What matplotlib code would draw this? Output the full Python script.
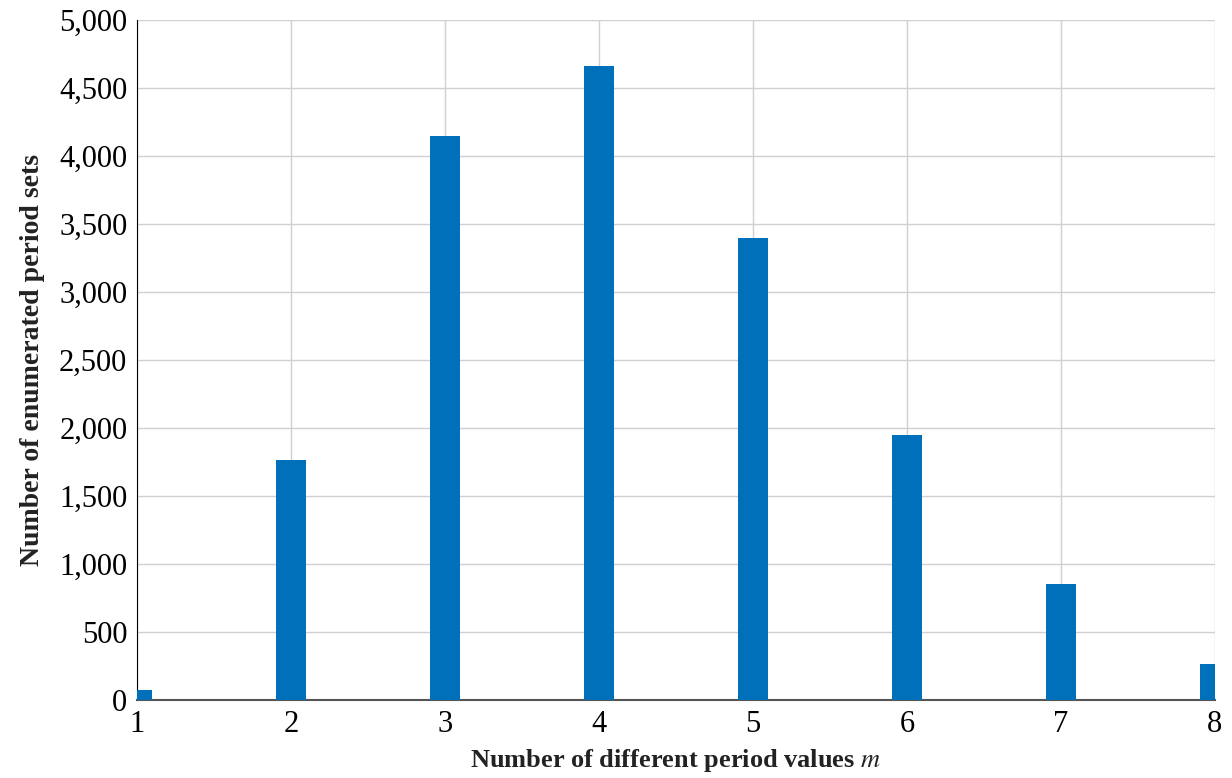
import matplotlib.pyplot as plt
from matplotlib.ticker import FuncFormatter

m_values = [1, 2, 3, 4, 5, 6, 7, 8]
period_sets = [73, 1765, 4145, 4665, 3395, 1948, 852, 262]

plt.rcParams['font.family'] = ['Liberation Serif', 'DejaVu Serif']
plt.rcParams['mathtext.fontset'] = 'stix'

fig = plt.figure(figsize=(12.32, 7.78), dpi=100)
ax = fig.add_axes([137 / 1232, 78 / 778, (1215 - 137) / 1232, 680 / 778])

ax.bar(m_values, period_sets, width=0.2, color='#0070BB', zorder=3)

ax.set_xlim(1, 8)
ax.set_ylim(0, 5000)
ax.set_yticks(range(0, 5001, 500))
ax.yaxis.set_major_formatter(FuncFormatter(lambda v, p: f'{int(v):,}'))
ax.grid(True, color='#D0D0D0', linewidth=1, zorder=0)

for s in ['top', 'right']:
    ax.spines[s].set_visible(False)
ax.spines['left'].set_color('black')
ax.spines['bottom'].set_color('#555555')
ax.spines['bottom'].set_linewidth(1.5)
ax.tick_params(length=0, labelsize=22, pad=7)

ax.set_xlabel('Number of different period values $m$', fontsize=19, fontweight='bold', color='#222222', labelpad=6)
ax.set_ylabel('Number of enumerated period sets', fontsize=20, fontweight='bold', color='#222222', labelpad=10)

fig.savefig('out.png', dpi=100)
